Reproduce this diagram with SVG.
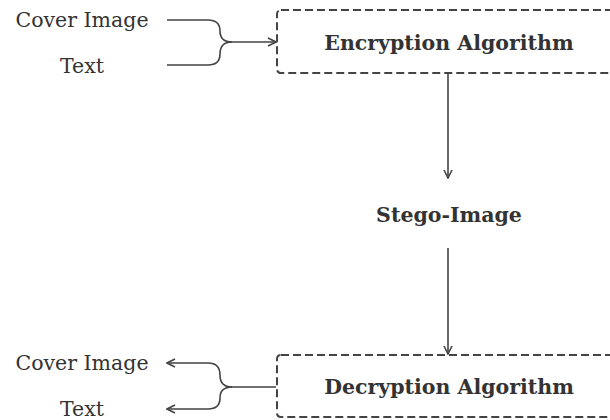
<svg xmlns="http://www.w3.org/2000/svg" width="610" height="420" viewBox="0 0 610 420">
<defs>
<style>
.box{fill:none;stroke:#444;stroke-width:2;stroke-dasharray:8 4}
.lbl{font-family:"DejaVu Serif","Liberation Serif",serif;fill:#333}
.t{font-size:20.5px;text-anchor:middle}
.b{font-size:20.5px;font-weight:bold;text-anchor:middle}
.c{fill:none;stroke:#444;stroke-width:1.6}
</style>
<marker id="ah" viewBox="0 0 10 10" refX="9" refY="5" markerWidth="10" markerHeight="10" markerUnits="userSpaceOnUse" orient="auto">
<path d="M1,1 L9,5 L1,9" fill="none" stroke="#444" stroke-width="1.6"/>
</marker>
</defs>
<rect width="610" height="420" fill="#fff"/>
<g id="in-cover"><text class="lbl t" x="82" y="27">Cover Image</text></g>
<g id="in-text"><text class="lbl t" x="82" y="73">Text</text></g>
<g id="encryption"><rect class="box" x="277" y="10" width="342" height="63" rx="4"/><text class="lbl b" x="449" y="50">Encryption Algorithm</text></g>
<g id="stego"><text class="lbl b" x="449" y="222">Stego-Image</text></g>
<g id="decryption"><rect class="box" x="277" y="355" width="342" height="62" rx="4"/><text class="lbl b" x="449" y="394">Decryption Algorithm</text></g>
<g id="out-cover"><text class="lbl t" x="82" y="370">Cover Image</text></g>
<g id="out-text"><text class="lbl t" x="82" y="416">Text</text></g>
<g id="connectors">
<path class="c" d="M167,20 H208 Q220,20 220,31 Q220,42 232,42 H276" marker-end="url(#ah)"/>
<path class="c" d="M167,65 H208 Q220,65 220,54 Q220,42 232,42"/>
<path class="c" d="M448,74 V178" marker-end="url(#ah)"/>
<path class="c" d="M448,248 V354" marker-end="url(#ah)"/>
<path class="c" d="M276,387 H232 Q220,387 220,375 Q220,363 208,363 H167" marker-end="url(#ah)"/>
<path class="c" d="M232,387 Q220,387 220,398 Q220,409 208,409 H167" marker-end="url(#ah)"/>
</g>
</svg>
